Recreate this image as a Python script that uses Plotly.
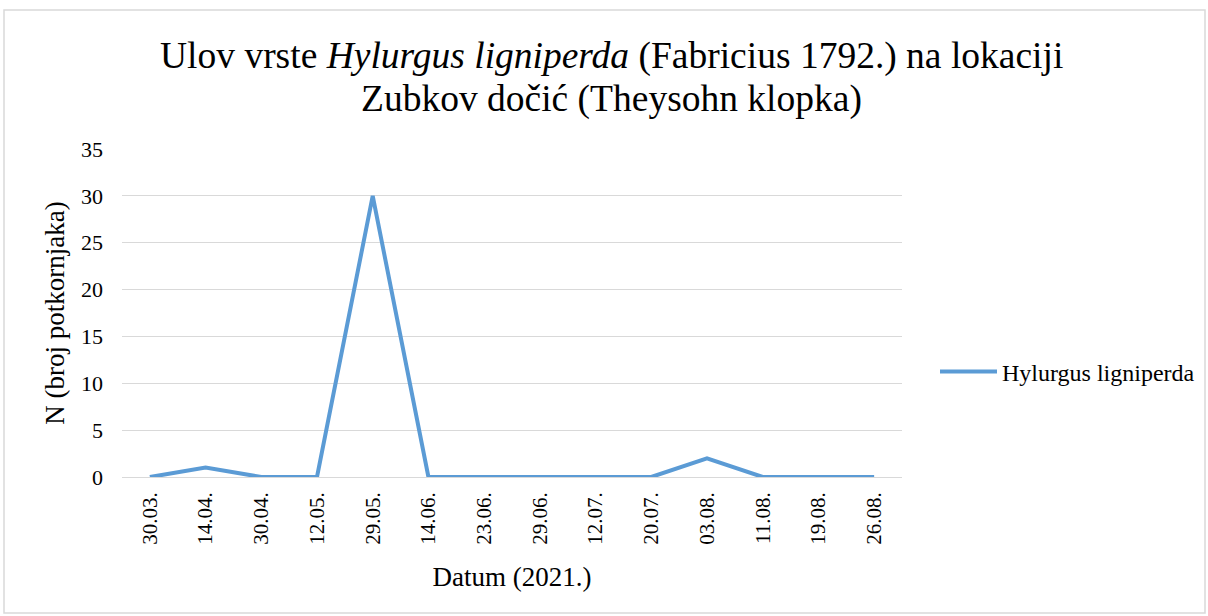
import plotly.graph_objects as go

dates = ["30.03.", "14.04.", "30.04.", "12.05.", "29.05.", "14.06.", "23.06.",
         "29.06.", "12.07.", "20.07.", "03.08.", "11.08.", "19.08.", "26.08."]
counts = [0, 1, 0, 0, 30, 0, 0, 0, 0, 0, 2, 0, 0, 0]
series_name = "Hylurgus ligniperda"
y_ticks = [0, 5, 10, 15, 20, 25, 30, 35]
title_lines = ["Ulov vrste <i>Hylurgus ligniperda</i> (Fabricius 1792.) na lokaciji",
               "Zubkov dočić (Theysohn klopka)"]

W, H = 1208, 616
L, R, T, B = 122, 902, 149, 477
font = "Liberation Serif"

def px(x):
    return (x - L) / (R - L)

def py(y):
    return (B - y) / (B - T)

fig = go.Figure()
fig.add_trace(go.Scatter(
    x=dates, y=counts, mode="lines", name=series_name,
    line=dict(color="#5B9BD5", width=4),
))

annotations = []
for line_text, ymid in zip(title_lines, [56, 99]):
    annotations.append(dict(
        text=line_text, xref="paper", yref="paper", x=px(611), y=py(ymid),
        xanchor="center", yanchor="middle", showarrow=False,
        font=dict(family=font, size=37.5, color="#000000"),
    ))

fig.update_layout(
    width=W, height=H,
    margin=dict(l=L, r=W - R, t=T, b=H - B, autoexpand=False),
    paper_bgcolor="white", plot_bgcolor="white",
    font=dict(family=font, size=21, color="#000000"),
    annotations=annotations,
    showlegend=True,
    legend=dict(x=px(935), xanchor="left", y=py(372), yanchor="middle",
                font=dict(family=font, size=24), itemwidth=57,
                bgcolor="rgba(0,0,0,0)"),
    xaxis=dict(
        type="category", range=[-0.5, len(dates) - 0.5],
        tickangle=-90, showgrid=False, showline=False, zeroline=False,
        ticks="", ticklabelstandoff=10, tickfont=dict(family=font, size=21),
        title=dict(text="Datum (2021.)", font=dict(family=font, size=27), standoff=23),
    ),
    yaxis=dict(
        range=[0, 35], tickvals=y_ticks, showgrid=True, gridcolor="#D9D9D9",
        gridwidth=1, zeroline=True, zerolinecolor="#D9D9D9", zerolinewidth=1,
        showline=False, ticks="", ticklabelstandoff=18, tickfont=dict(family=font, size=22),
        title=dict(text="N (broj potkornjaka)", font=dict(family=font, size=27), standoff=8),
    ),
    shapes=[dict(type="rect", xref="paper", yref="paper",
                 x0=px(4), x1=px(1205), y0=py(613), y1=py(10),
                 line=dict(color="#D9D9D9", width=1.5), fillcolor="rgba(0,0,0,0)",
                 layer="below")],
)

fig.write_html("out.html", config={"displayModeBar": False},
               post_script="document.body.style.margin='0';")
